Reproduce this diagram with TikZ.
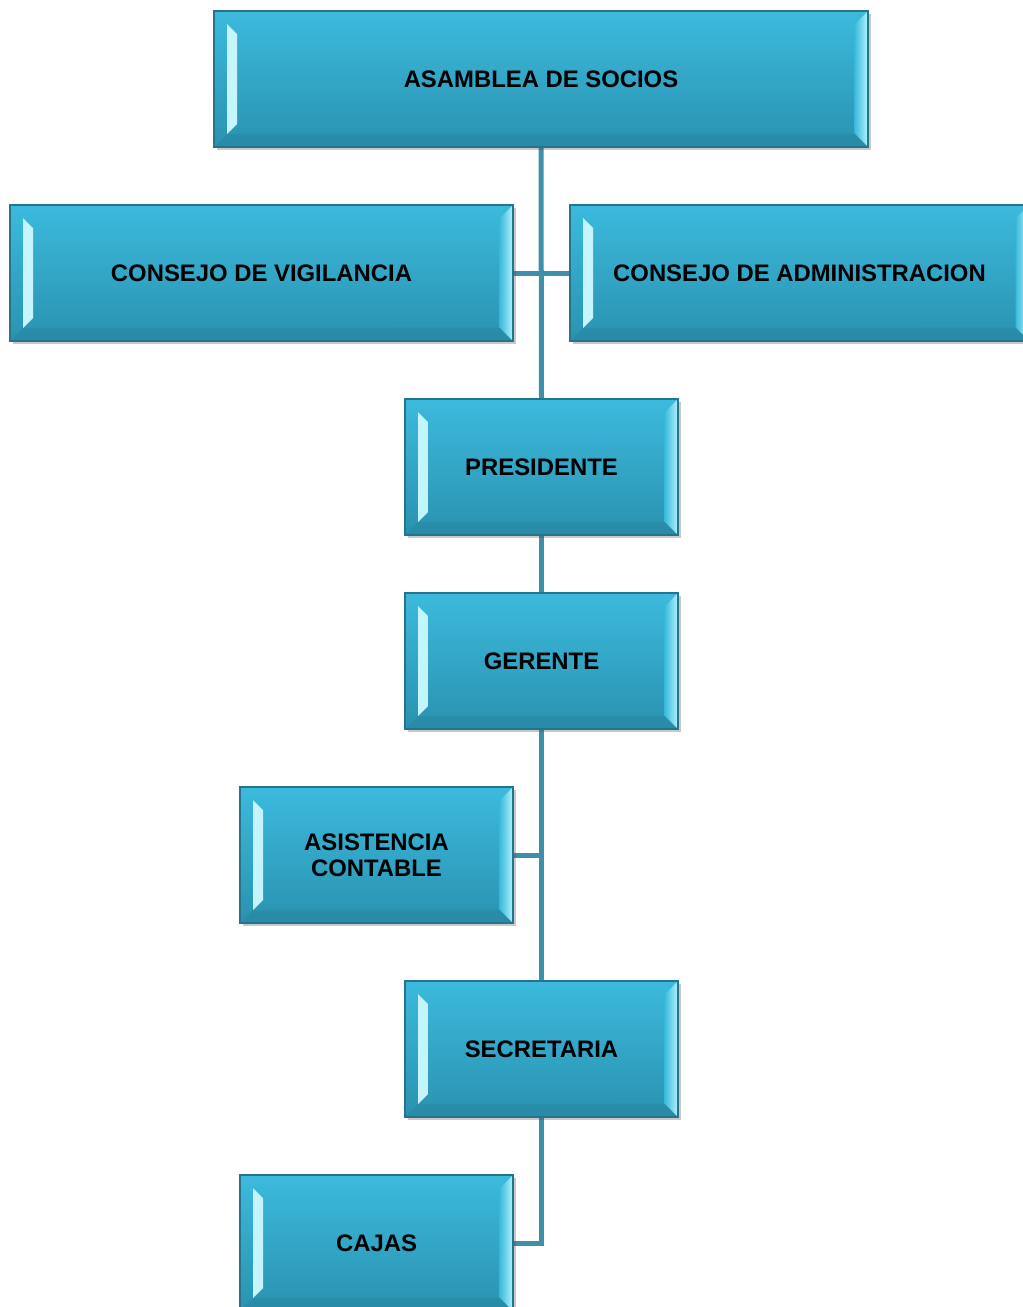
\documentclass[tikz,border=0pt]{standalone}
\usepackage{fontspec}
\setmainfont{Liberation Sans}
\usetikzlibrary{shadows}
\pgfdeclarelayer{fondo}
\pgfsetlayers{fondo,main}

\definecolor{cielo}{RGB}{60,186,221}
\definecolor{mar}{RGB}{42,146,176}
\definecolor{borde}{RGB}{38,116,140}
\definecolor{bisel}{RGB}{165,240,252}
\definecolor{linea}{RGB}{62,143,168}

\tikzset{
  cargo/.style={draw=borde, line width=0.8pt, top color=cielo, bottom color=mar,
    minimum height=102pt, inner sep=0pt, align=center,
    font=\fontsize{17.9}{19.5}\selectfont\bfseries,
    drop shadow={shadow xshift=2.5pt, shadow yshift=-2.5pt, opacity=0.3, fill=black!70},
    path picture={
      %% left bevel
      \shade[left color=bisel!60!white, right color=bisel!55!cielo]
        ([shift={(9.75pt,-9.75pt)}]path picture bounding box.north west) -- ++(7.5pt,-7.5pt)
        -- ([shift={(17.25pt,17.25pt)}]path picture bounding box.south west) -- ++(-7.5pt,-7.5pt) -- cycle;
      %% right bevel
      \shade[left color=cielo, right color=bisel!85!white]
        (path picture bounding box.north east) -- ++(-10pt,-10pt)
        -- ([shift={(-10pt,10pt)}]path picture bounding box.south east)
        -- (path picture bounding box.south east) -- cycle;
      %% bottom band
      \fill[borde, opacity=0.25]
        (path picture bounding box.south west) -- ++(9.75pt,9.75pt)
        -- ([shift={(-10pt,10pt)}]path picture bounding box.south east)
        -- (path picture bounding box.south east) -- cycle;
    }},
  enlace/.style={draw=linea, line width=3.75pt}
}

\begin{document}
\begin{tikzpicture}[x=0.75pt, y=-0.75pt]
  \useasboundingbox (0,0) rectangle (1023,1307);

  %% boxes
  \node[cargo, minimum width=490.5pt] (asamblea) at (541,79) {ASAMBLEA DE SOCIOS};
  \node[cargo, minimum width=377.25pt] (vigilancia) at (261.5,273) {CONSEJO DE VIGILANCIA};
  \node[cargo, minimum width=344.25pt] (administracion) at (799.5,273) {CONSEJO DE ADMINISTRACION};
  \node[cargo, minimum width=204.75pt] (presidente) at (541.5,467) {PRESIDENTE};
  \node[cargo, minimum width=204.75pt] (gerente) at (541.5,661) {GERENTE};
  \node[cargo, minimum width=204.75pt] (asistencia) at (376.5,855) {ASISTENCIA\\CONTABLE};
  \node[cargo, minimum width=204.75pt] (secretaria) at (541.5,1049) {SECRETARIA};
  \node[cargo, minimum width=204.75pt] (cajas) at (376.5,1243) {CAJAS};

  %% links
  \begin{pgfonlayer}{fondo}
    \draw[enlace] (asamblea.south) -- (presidente.north);
    \draw[enlace] (vigilancia.east) -- (administracion.west);
    \draw[enlace] (presidente.south) -- (gerente.north);
    \draw[enlace] (gerente.south) -- (secretaria.north);
    \draw[enlace] (asistencia.east) -- (asistencia.east -| gerente.south);
    \draw[enlace] (secretaria.south) |- (cajas.east);
  \end{pgfonlayer}

\end{tikzpicture}
\end{document}
